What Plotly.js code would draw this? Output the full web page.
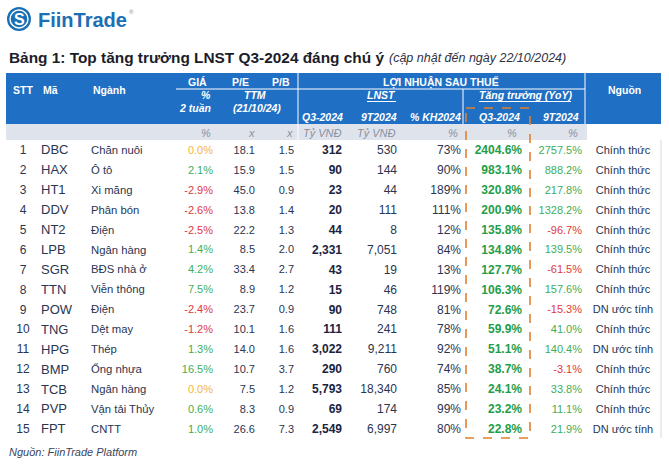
<!DOCTYPE html>
<html>
<head>
<meta charset="utf-8">
<script src="https://cdn.plot.ly/plotly-3.0.1.min.js"></script>
<style>html,body{margin:0;padding:0;background:#fff;}#chart{width:669px;height:464px;}</style>
</head>
<body>
<div id="chart"></div>
<script>
// ---------- DATA ----------
const stt = [1,2,3,4,5,6,7,8,9,10,11,12,13,14,15];
const ma = ["DBC","HAX","HT1","DDV","NT2","LPB","SGR","TTN","POW","TNG","HPG","BMP","TCB","PVP","FPT"];
const nganh = ["Chăn nuôi","Ô tô","Xi măng","Phân bón","Điện","Ngân hàng","BĐS nhà ở","Viễn thông","Điện","Dệt may","Thép","Ống nhựa","Ngân hàng","Vận tải Thủy","CNTT"];
const gia2Tuan = [0.0,2.1,-2.9,-2.6,-2.5,1.4,4.2,7.5,-2.4,-1.2,1.3,16.5,0.0,0.6,1.0];
const peTTM = [18.1,15.9,45.0,13.8,22.2,8.5,33.4,8.9,23.7,10.1,14.0,10.7,7.5,8.3,26.6];
const pbTTM = [1.5,1.5,0.9,1.4,1.3,2.0,2.7,1.2,0.9,1.6,1.6,3.7,1.2,0.9,7.3];
const lnstQ3 = [312,90,23,20,44,2331,43,15,90,111,3022,290,5793,69,2549];
const lnst9T = [530,144,44,111,8,7051,19,46,748,241,9211,760,18340,174,6997];
const pctKH2024 = [73,90,189,111,12,84,13,119,81,78,92,74,85,99,80];
const growthQ3 = [2404.6,983.1,320.8,200.9,135.8,134.8,127.7,106.3,72.6,59.9,51.1,38.7,24.1,23.2,22.8];
const growth9T = [2757.5,888.2,217.8,1328.2,-96.7,139.5,-61.5,157.6,-15.3,41.0,140.4,-3.1,33.8,11.1,21.9];
const nguon = ["Chính thức","Chính thức","Chính thức","Chính thức","Chính thức","Chính thức","Chính thức","Chính thức","DN ước tính","Chính thức","DN ước tính","Chính thức","Chính thức","Chính thức","DN ước tính"];
const unitLabels = ["%","x","x","Tỷ VNĐ","Tỷ VNĐ","%","%","%"];
const titleText = "Bảng 1: Top tăng trưởng LNST Q3-2024 đáng chú ý";
const subtitleText = "(cập nhật đến ngày 22/10/2024)";
const sourceText = "Nguồn: FiinTrade Platform";

// ---------- STYLE ----------
const FONT = "Liberation Sans, Arial, sans-serif";
const BLUE = "#1f6fc4";
const UNIT_BG = "#dfe3ec";
const TXT = "#2a3552";
const GREEN = "#3fae5a";
const GREEN_B = "#1f9e48";
const RED = "#e0393e";
const YELLOW = "#f4b73a";
const ORANGE = "#e2802f";

const ROW0 = 151, STEP = 19.94;
const rowY = stt.map((s, i) => ROW0 + i * STEP);

const fmt1 = v => v.toFixed(1);
const pct1 = v => v.toFixed(1) + "%";
const thou = v => v.toLocaleString("en-US");
const signColor = v => v > 0 ? GREEN : (v < 0 ? RED : YELLOW);

function col(x, texts, pos, size, color, weight, style) {
  return {
    type: "scatter", mode: "text", x: texts.map(() => x), y: rowY, text: texts,
    textposition: pos, hoverinfo: "skip", showlegend: false, cliponaxis: false,
    textfont: {family: FONT, size: size, color: color, weight: weight || "normal", style: style || "normal"}
  };
}

const traces = [
  col(23, stt.map(String), "middle center", 12, TXT),
  col(41, ma, "middle right", 13, TXT),
  col(91, nganh, "middle right", 11.3, TXT),
  col(213, gia2Tuan.map(pct1), "middle left", 11, gia2Tuan.map(signColor)),
  col(255, peTTM.map(fmt1), "middle left", 11, TXT),
  col(294, pbTTM.map(fmt1), "middle left", 11, TXT),
  col(342, lnstQ3.map(thou), "middle left", 12, "#1a2440", "bold"),
  col(397, lnst9T.map(thou), "middle left", 12, TXT),
  col(461, pctKH2024.map(v => v + "%"), "middle left", 12, TXT),
  col(522, growthQ3.map(pct1), "middle left", 12, GREEN_B, "bold"),
  col(582, growth9T.map(pct1), "middle left", 11, growth9T.map(signColor)),
  col(623, nguon, "middle center", 11, TXT)
];

// ---------- ANNOTATIONS ----------
const anns = [];
function ann(text, x, y, xa, size, color, extra) {
  anns.push(Object.assign({
    text: text, x: x, y: y, xref: "x", yref: "y", xanchor: xa, yanchor: "middle",
    showarrow: false, font: {family: FONT, size: size, color: color}
  }, extra || {}));
}
function hdr(text, x, y, xa, italic) {
  ann(italic ? "<b><i>" + text + "</i></b>" : "<b>" + text + "</b>", x, y, xa, 10.5, "#ffffff");
}
hdr("STT", 23, 90, "center");
hdr("Mã", 41, 90, "left");
hdr("Ngành", 91, 90, "left");
hdr("GIÁ", 197, 82, "center");
hdr("P/E", 240, 82, "center");
hdr("P/B", 281, 82, "center");
hdr("LỢI NHUẬN SAU THUẾ", 441, 82, "center");
hdr("Nguồn", 624, 90, "center");
hdr("%", 213, 95, "right", true);
hdr("2 tuần", 213, 108, "right", true);
hdr("TTM", 255, 95, "center", true);
hdr("(21/10/24)", 257, 108, "center", true);
hdr("LNST", 381, 95, "center", true);
hdr("Tăng trưởng (YoY)", 525, 95, "center", true);
hdr("Q3-2024", 322, 117, "center", true);
hdr("9T2024", 379, 117, "center", true);
hdr("% KH2024", 435, 117, "center", true);
hdr("Q3-2024", 499, 117, "center", true);
hdr("9T2024", 561, 117, "center", true);

const unitX = [213, 257, 295, 322, 376, 460, 519, 580];
const unitA = ["right","right","right","center","center","right","right","right"];
unitLabels.forEach((u, i) => ann("<i>" + u + "</i>", unitX[i], 133, unitA[i], 11, "#8a909e"));

// logo + titles
ann("<b>S</b>", 19, 19.5, "center", 16, "#ffffff");
ann("<b>FiinTrade</b>", 36, 20, "left", 20, "#1c6fb5");
ann("®", 131, 12, "center", 6, "#7a8aa0");
ann("<b>" + titleText + "</b>", 7, 57, "left", 15.4, "#1b1d2b");
ann("<i>" + subtitleText + "</i>", 387, 57.5, "left", 12.5, "#2e3142");
ann("<i>" + sourceText + "</i>", 7, 452, "left", 11, "#3a4560");

// ---------- SHAPES ----------
const shapes = [];
function rect(x0, y0, x1, y1, fill, line) {
  shapes.push({type: "rect", xref: "x", yref: "y", x0, y0, x1, y1, fillcolor: fill, line: line || {width: 0}, layer: "below"});
}
function seg(x0, y0, x1, y1, color, w, dash) {
  shapes.push({type: "line", xref: "x", yref: "y", x0, y0, x1, y1, line: {color, width: w, dash: dash || "solid"}});
}
rect(6, 73, 661, 124, BLUE);
rect(6, 124, 587, 140, UNIT_BG);
seg(176, 89, 585, 89, "#ffffff", 1);
seg(298, 73, 298, 140, "#ffffff", 1);
seg(585, 73, 585, 124, "#ffffff", 1);
seg(463, 89, 463, 124, "#ffffff", 1);
seg(367, 101.5, 396, 101.5, "#ffffff", 1);
seg(479, 101.5, 571, 101.5, "#ffffff", 1);
seg(661, 140, 661, 438, "#d5d8de", 1);
shapes.push({type: "rect", xref: "x", yref: "y", x0: 466, y0: 108, x1: 530, y1: 438,
  line: {color: ORANGE, width: 1.6, dash: "dash"}, fillcolor: "rgba(0,0,0,0)"});
// logo circles
shapes.push({type: "circle", xref: "x", yref: "y", x0: 7, y0: 7, x1: 31, y1: 31, fillcolor: "#1a70b5", line: {width: 0}});
shapes.push({type: "circle", xref: "x", yref: "y", x0: 10, y0: 10, x1: 28, y1: 28, fillcolor: "rgba(0,0,0,0)", line: {color: "#ffffff", width: 1.4}});

const layout = {
  width: 669, height: 464, margin: {l: 0, r: 0, t: 0, b: 0},
  paper_bgcolor: "#ffffff", plot_bgcolor: "#ffffff",
  xaxis: {range: [0, 669], visible: false, fixedrange: true},
  yaxis: {range: [464, 0], visible: false, fixedrange: true},
  annotations: anns, shapes: shapes, showlegend: false
};
Plotly.newPlot("chart", traces, layout, {staticPlot: true, displayModeBar: false});
</script>
</body>
</html>
